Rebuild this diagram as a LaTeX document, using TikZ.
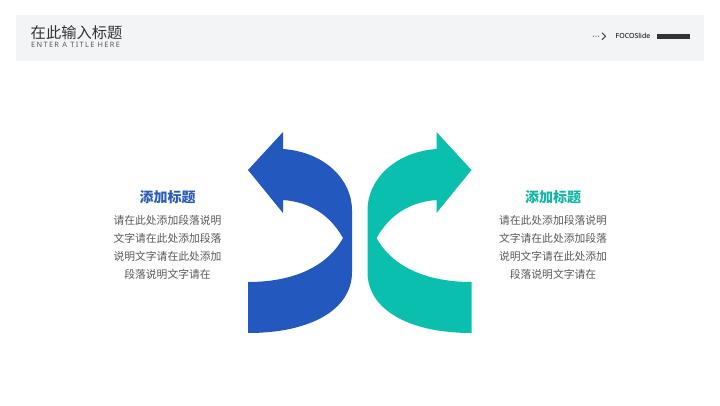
\documentclass[tikz,border=0pt]{standalone}
\usepackage{fontspec}
\setmainfont{Noto Sans CJK SC}
\newfontfamily\cjk{Noto Sans CJK SC}
\newfontfamily\latinsans{Noto Sans}
\definecolor{bandgray}{HTML}{F3F4F5}
\definecolor{arrowblue}{HTML}{2359BE}
\definecolor{arrowgreen}{HTML}{0BBFAE}
\definecolor{titleblue}{HTML}{2A5CB8}
\definecolor{titlegreen}{HTML}{12B5A5}
\definecolor{bodygray}{HTML}{595959}
\definecolor{headgray}{HTML}{333333}
\begin{document}
\begin{tikzpicture}[x=1pt,y=-1pt,
  bodytext/.style={font=\cjk\fontsize{10.8}{17.8}\selectfont, text=bodygray, align=center, inner sep=0pt},
  sidetitle/.style={font=\cjk\bfseries\fontsize{14}{16}\selectfont, inner sep=0pt},
  bigarrow/.style={draw=none}]
\useasboundingbox (0,0) rectangle (720,405);
\fill[white] (0,0) rectangle (720,405);
% header band
\fill[bandgray] (16,15) rectangle (704,61);
\node[anchor=west, inner sep=0pt, font=\cjk\fontsize{15.3}{17}\selectfont, text=headgray] (title) at (30.5,32.5) {在此输入标题};
\node[anchor=west, inner sep=0pt, font=\latinsans\addfontfeature{LetterSpace=18}\fontsize{7.4}{8}\selectfont, text=bodygray] (subtitle) at (31,45) {ENTER A TITLE HERE};
% logo
\fill[headgray] (593.5,36.2) circle (0.55) (596,36.2) circle (0.55) (598.5,36.2) circle (0.55);
\draw[headgray, line width=0.9pt] (602,32.8) -- (605.5,36.2) -- (602,39.6);
\node[anchor=west, inner sep=0pt, font=\latinsans\fontsize{7}{8}\selectfont, text=black] (brand) at (615.5,36.2) {FOCOSlide};
\fill[headgray] (657,34.3) rectangle (690,38.8);
% blue arrow
\fill[arrowblue] (248,170) -- (283,132) -- (283,149)
  .. controls (325,152) and (352,180) .. (352,210) -- (352,272)
  .. controls (352,310) and (310,333) .. (248,333) -- (248,282)
  .. controls (300,282) and (330,262) .. (343,238)
  .. controls (330,215) and (310,202) .. (283,200) -- (283,213) -- cycle;
% green arrow (mirror)
\begin{scope}[shift={(719.5,0)}, xscale=-1]
\fill[arrowgreen] (248,170) -- (283,132) -- (283,149)
  .. controls (325,152) and (352,180) .. (352,210) -- (352,272)
  .. controls (352,310) and (310,333) .. (248,333) -- (248,282)
  .. controls (300,282) and (330,262) .. (343,238)
  .. controls (330,215) and (310,202) .. (283,200) -- (283,213) -- cycle;
\end{scope}
% left text
\node[sidetitle, text=titleblue] (ltitle) at (167.5,197) {添加标题};
\node[bodytext, anchor=north] (lbody) at (167.5,215.3) {请在此处添加段落说明\\文字请在此处添加段落\\说明文字请在此处添加\\段落说明文字请在};
% right text
\node[sidetitle, text=titlegreen] (rtitle) at (553,197) {添加标题};
\node[bodytext, anchor=north] (rbody) at (553,215.3) {请在此处添加段落说明\\文字请在此处添加段落\\说明文字请在此处添加\\段落说明文字请在};
\end{tikzpicture}
\end{document}
